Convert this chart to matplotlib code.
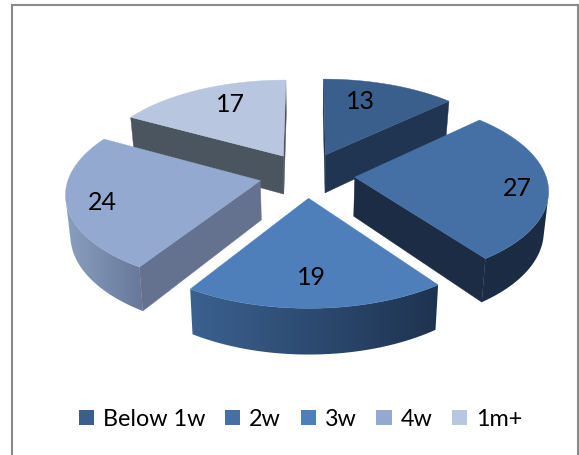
import numpy as np
import matplotlib
matplotlib.use("Agg")
import matplotlib.pyplot as plt
from matplotlib.colors import LinearSegmentedColormap
from matplotlib.patches import Patch, Polygon

categories = ["Below 1w", "2w", "3w", "4w", "1m+"]
values = [13, 27, 19, 24, 17]

top_colors = ["#3a5f8c", "#4470a5", "#4e7fbb", "#93a9cf", "#b9c6df"]
# Outer rim shading, left end to right end of each slice
rim_left = ["#203552", "#1b2c44", "#3b6190", "#8a9fc0", "#4b5560"]
rim_right = ["#203552", "#1b2c44", "#1e3350", "#66779a", "#4b5560"]
# Flat colour of the cut faces
face_colors = ["#203552", "#1b2c44", "#1e3350", "#647290", "#4b5560"]
# Back slices are painted first so the front ones overlap them
paint_order = [4, 0, 3, 1, 2]
label_radius = [0.72, 0.84, 0.74, 0.82, 0.74]
label_turn = [-6, 2, 1, -1.5, 5]

# Projection of the tilted pie into pixel coordinates
CX, CY = 307.0, 175.0
SCALE_X, SCALE_Y = 191.0, 90.0
PERSPECTIVE = 0.125
DEPTH = 39.0
TAPER = 0.98
EXPLODE = 0.25


def project(u, v, lower=False):
    w = 1 + PERSPECTIVE * np.asarray(v, dtype=float)
    x = SCALE_X * np.asarray(u, dtype=float) / w
    y = CY - SCALE_Y * np.asarray(v, dtype=float) / w
    if lower:
        return CX + x * TAPER, y + DEPTH / w
    return CX + x, y


def signed_area(xs, ys):
    xs, ys = np.asarray(xs), np.asarray(ys)
    return 0.5 * np.sum(xs * np.roll(ys, -1) - np.roll(xs, -1) * ys)


fig = plt.figure(figsize=(5.79, 4.55), dpi=100)
ax = fig.add_axes([0, 0, 1, 1])
ax.axis("off")

# Chart frame, its lower edge runs off the canvas
ax.plot([12, 12, 578, 578], [470, 5, 5, 470], color="#8a8a8a", lw=1.5,
        solid_joinstyle="miter", zorder=0)

total = sum(values)
edges = np.concatenate([[0], np.cumsum(values)]) / total * 2 * np.pi
labels = []

for layer, i in enumerate(paint_order):
    start, end = edges[i], edges[i + 1]
    mid = (start + end) / 2
    ou, ov = EXPLODE * np.sin(mid), EXPLODE * np.cos(mid)
    th = np.linspace(start, end, 240)
    ring_u, ring_v = ou + np.sin(th), ov + np.cos(th)
    tx, ty = project(ring_u, ring_v)
    bx, by = project(ring_u, ring_v, lower=True)
    apex_x, apex_y = project(ou, ov)
    apex_bx, apex_by = project(ou, ov, lower=True)
    z = 2 + layer * 2

    # The two cut faces, kept only when they face the viewer
    for j in (0, -1):
        xs = [float(apex_x), tx[j], bx[j], float(apex_bx)]
        ys = [float(apex_y), ty[j], by[j], float(apex_by)]
        if j == -1:
            xs, ys = [xs[1], xs[0], xs[3], xs[2]], [ys[1], ys[0], ys[3], ys[2]]
        if signed_area(xs, ys) < 0:
            ax.add_patch(Polygon(np.column_stack([xs, ys]), closed=True,
                                 facecolor=face_colors[i], edgecolor=face_colors[i],
                                 linewidth=0.3, zorder=z))

    # Outer rim: the front-facing run of the arc, filled with a sideways gradient
    facing = [signed_area([tx[k], tx[k + 1], bx[k + 1], bx[k]],
                          [ty[k], ty[k + 1], by[k + 1], by[k]]) < 0
              for k in range(len(th) - 1)]
    idx = np.flatnonzero(facing)
    if len(idx):
        a, b = idx[0], idx[-1] + 2
        rim = np.column_stack([np.concatenate([tx[a:b], bx[a:b][::-1]]),
                               np.concatenate([ty[a:b], by[a:b][::-1]])])
        shape = Polygon(rim, closed=True, facecolor="none", edgecolor="none",
                        transform=ax.transData)
        ax.add_patch(shape)
        cmap = LinearSegmentedColormap.from_list("rim", [rim_left[i], rim_right[i]])
        ramp = np.linspace(0, 1, 256).reshape(1, -1)
        extent = (min(tx.min(), bx.min()), max(tx.max(), bx.max()),
                  by.max() + 2, ty.min() - 2)
        img = ax.imshow(ramp, cmap=cmap, extent=extent, aspect="auto",
                        interpolation="bilinear", zorder=z)
        img.set_clip_path(shape)

    ax.add_patch(Polygon(np.column_stack([np.concatenate([[apex_x], tx]),
                                          np.concatenate([[apex_y], ty])]),
                         closed=True, facecolor=top_colors[i], edgecolor=top_colors[i],
                         linewidth=0.3, zorder=z + 1))

    lab = mid + np.radians(label_turn[i])
    lx, ly = project(ou + label_radius[i] * np.sin(lab), ov + label_radius[i] * np.cos(lab))
    labels.append((float(lx), float(ly) + 1.0, str(values[i])))

for lx, ly, text in labels:
    ax.text(lx, ly, text, ha="center", va="center", fontsize=18, family="Lato",
            color="black", zorder=30)

handles = [Patch(facecolor=c, edgecolor="none") for c in top_colors]
ax.legend(handles, categories, ncol=5, frameon=False, loc="center",
          bbox_to_anchor=(300.5 / 579, 1 - 419 / 455),
          prop={"family": "Lato", "size": 16.8}, handlelength=0.65, handleheight=0.65,
          handletextpad=0.38, columnspacing=0.85, borderpad=0, labelcolor="black")

ax.set_xlim(0, 579)
ax.set_ylim(455, 0)
fig.savefig("out.png", dpi=100)
